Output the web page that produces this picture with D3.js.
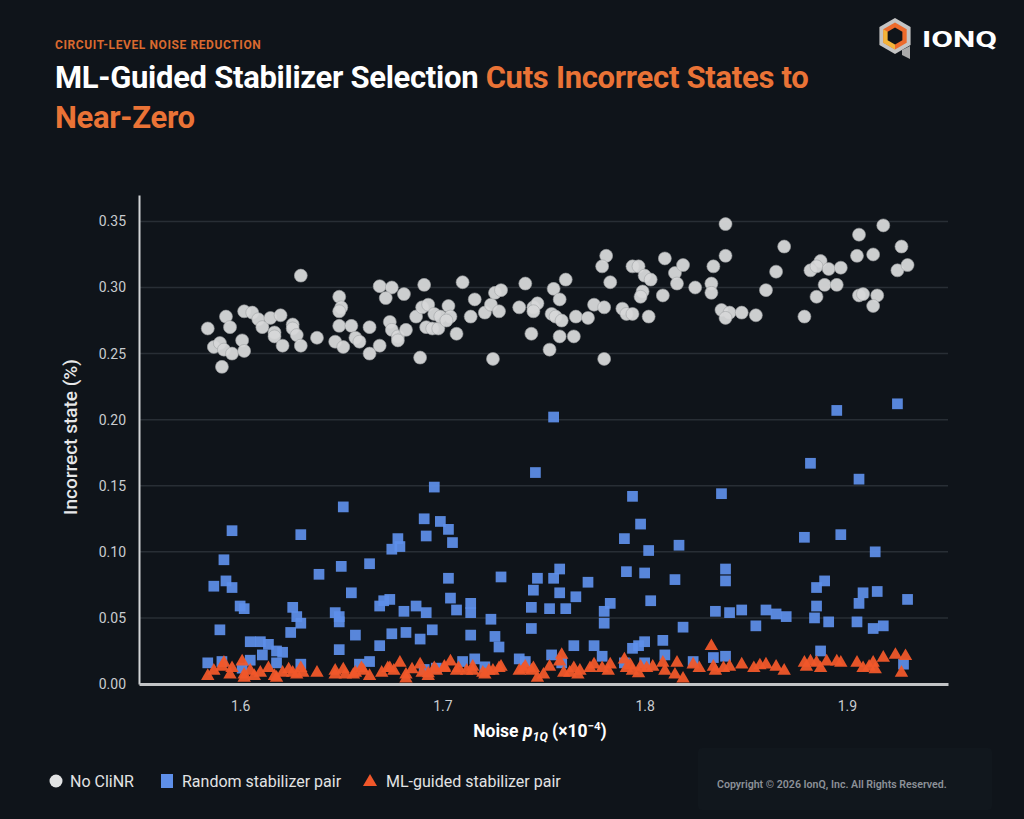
<!DOCTYPE html>
<html>
<head>
<meta charset="utf-8">
<script src="https://cdn.jsdelivr.net/npm/d3@7"></script>
<style>
  html, body { margin: 0; padding: 0; background: #0f141a; }
  svg { display: block; font-family: Roboto, "Noto Sans", sans-serif; }
</style>
</head>
<body>
<div id="chart"></div>
<script>
// ML-guided stabilizer selection scatter (IonQ style)

// ---- data: [noise p1Q (x1e-4), incorrect state %] ----
var noClinr = [
  [1.584,0.269],[1.593,0.278],[1.595,0.270],[1.587,0.255],[1.590,0.258],[1.592,0.253],[1.596,0.250],[1.591,0.240],[1.601,0.260],[1.602,0.252],
  [1.602,0.282],[1.606,0.281],[1.609,0.276],[1.611,0.270],[1.615,0.277],[1.620,0.279],[1.617,0.266],[1.617,0.263],[1.621,0.256],[1.626,0.272],
  [1.626,0.269],[1.628,0.264],[1.630,0.256],[1.630,0.309],[1.638,0.262],[1.649,0.293],[1.650,0.285],[1.649,0.282],[1.649,0.271],[1.655,0.271],
  [1.647,0.259],[1.651,0.255],[1.657,0.262],[1.659,0.259],[1.664,0.250],[1.664,0.270],[1.669,0.256],[1.669,0.301],[1.675,0.300],[1.672,0.292],
  [1.681,0.295],[1.674,0.274],[1.675,0.268],[1.678,0.263],[1.678,0.260],[1.682,0.268],[1.687,0.278],[1.691,0.302],[1.689,0.247],[1.690,0.285],
  [1.693,0.287],[1.692,0.270],[1.695,0.269],[1.698,0.269],[1.696,0.280],[1.699,0.278],[1.703,0.286],[1.704,0.278],[1.702,0.275],[1.707,0.265],
  [1.710,0.304],[1.714,0.278],[1.716,0.291],[1.721,0.281],[1.724,0.287],[1.726,0.296],[1.729,0.298],[1.728,0.282],[1.725,0.246],[1.741,0.303],
  [1.738,0.285],[1.745,0.285],[1.747,0.288],[1.745,0.282],[1.744,0.265],[1.753,0.253],[1.755,0.299],[1.761,0.306],[1.758,0.291],[1.754,0.280],
  [1.756,0.278],[1.759,0.275],[1.758,0.263],[1.765,0.263],[1.766,0.278],[1.772,0.277],[1.775,0.287],[1.780,0.285],[1.781,0.324],[1.779,0.316],
  [1.783,0.304],[1.780,0.246],[1.789,0.284],[1.791,0.280],[1.794,0.280],[1.794,0.316],[1.797,0.316],[1.800,0.309],[1.803,0.306],[1.799,0.297],
  [1.798,0.293],[1.802,0.278],[1.809,0.294],[1.810,0.322],[1.815,0.311],[1.816,0.303],[1.819,0.317],[1.825,0.300],[1.834,0.316],[1.833,0.303],
  [1.833,0.296],[1.838,0.283],[1.842,0.281],[1.840,0.277],[1.840,0.348],[1.840,0.324],[1.848,0.281],[1.855,0.279],[1.860,0.298],[1.865,0.312],
  [1.869,0.331],[1.879,0.278],[1.882,0.313],[1.887,0.320],[1.885,0.316],[1.891,0.314],[1.897,0.315],[1.889,0.302],[1.895,0.302],[1.885,0.293],
  [1.906,0.340],[1.905,0.324],[1.913,0.325],[1.918,0.347],[1.906,0.294],[1.908,0.295],[1.915,0.294],[1.913,0.286],[1.927,0.331],[1.925,0.313],
  [1.930,0.317]
];

var randomPair = [
  [1.755,0.202],[1.895,0.207],[1.925,0.212],[1.882,0.167],[1.906,0.155],[1.746,0.160],[1.696,0.149],[1.651,0.134],[1.794,0.142],[1.838,0.144],
  [1.691,0.125],[1.699,0.123],[1.798,0.121],[1.596,0.116],[1.703,0.117],
  [1.630,0.113],[1.692,0.112],[1.705,0.107],[1.678,0.110],[1.679,0.104],[1.675,0.102],[1.592,0.094],[1.650,0.089],[1.664,0.091],[1.639,0.083],
  [1.587,0.074],[1.593,0.078],[1.596,0.073],[1.655,0.069],[1.703,0.080],[1.729,0.081],[1.600,0.059],[1.602,0.057],[1.626,0.058],[1.628,0.051],
  [1.630,0.046],[1.625,0.039],[1.590,0.041],[1.647,0.054],[1.649,0.051],[1.649,0.047],[1.649,0.026],[1.657,0.037],[1.669,0.059],[1.671,0.063],
  [1.674,0.064],[1.681,0.055],[1.687,0.059],[1.692,0.054],[1.704,0.065],[1.707,0.056],[1.714,0.061],[1.714,0.054],[1.675,0.038],[1.682,0.039],
  [1.689,0.034],[1.695,0.041],[1.714,0.037],[1.724,0.049],[1.726,0.036],[1.728,0.028],[1.605,0.032],[1.610,0.032],[1.614,0.030],[1.611,0.022],
  [1.618,0.025],[1.621,0.024],[1.669,0.029],[1.744,0.042],[1.744,0.058],[1.745,0.071],[1.747,0.080],[1.755,0.080],[1.758,0.087],[1.758,0.069],
  [1.753,0.057],[1.761,0.057],[1.766,0.066],[1.765,0.029],[1.754,0.022],[1.759,0.016],
  [1.584,0.016],[1.591,0.017],[1.605,0.018],[1.618,0.016],[1.630,0.015],[1.659,0.015],[1.664,0.017],[1.710,0.017],[1.716,0.019],[1.721,0.013],
  [1.738,0.019],[1.741,0.017],[1.691,0.011],[1.697,0.012],[1.601,0.012],
  [1.790,0.110],[1.802,0.101],[1.817,0.105],[1.791,0.085],[1.800,0.084],[1.815,0.079],[1.772,0.077],[1.783,0.061],[1.780,0.055],[1.780,0.046],
  [1.803,0.063],[1.840,0.087],[1.840,0.078],[1.835,0.055],[1.842,0.054],[1.848,0.056],[1.855,0.044],[1.860,0.056],[1.865,0.053],[1.870,0.051],
  [1.879,0.111],[1.897,0.113],[1.914,0.100],[1.885,0.073],[1.889,0.078],[1.885,0.059],[1.884,0.050],[1.891,0.047],[1.906,0.061],[1.908,0.069],
  [1.915,0.070],[1.930,0.064],[1.905,0.047],[1.913,0.042],[1.918,0.044],[1.819,0.043],[1.775,0.029],[1.779,0.021],[1.794,0.027],[1.797,0.029],
  [1.800,0.032],[1.809,0.033],[1.810,0.022],[1.887,0.025],[1.834,0.020],[1.840,0.021],[1.824,0.017],[1.928,0.015],[1.790,0.016],[1.800,0.016]
];

var mlGuided = [
  [1.584,0.006],[1.587,0.010],[1.591,0.013],[1.592,0.016],[1.595,0.007],[1.596,0.012],[1.601,0.017],[1.602,0.007],[1.605,0.010],[1.610,0.0085],
  [1.614,0.012],[1.617,0.006],[1.621,0.0085],[1.624,0.011],[1.628,0.007],[1.631,0.0085],[1.638,0.0085],[1.647,0.010],[1.651,0.011],[1.652,0.007],
  [1.656,0.007],[1.660,0.012],[1.664,0.006],[1.670,0.0085],[1.674,0.012],[1.676,0.010],[1.679,0.016],[1.682,0.007],[1.689,0.0147],[1.690,0.0085],
  [1.693,0.006],[1.697,0.010],[1.701,0.013],[1.704,0.017],[1.707,0.010],[1.712,0.010],[1.715,0.013],[1.720,0.0085],[1.723,0.010],[1.728,0.012],
  [1.740,0.011],[1.744,0.010],[1.747,0.0047],[1.753,0.013],[1.758,0.017],[1.760,0.0085],[1.759,0.022],[1.602,0.0047],[1.618,0.0047],[1.682,0.004],
  [1.607,0.006],[1.626,0.0085],[1.630,0.012],[1.647,0.007],[1.657,0.0085],[1.661,0.010],[1.673,0.012],[1.693,0.008],[1.696,0.012],[1.701,0.012],
  [1.715,0.010],[1.721,0.007],[1.725,0.010],[1.729,0.013],[1.738,0.010],[1.745,0.012],[1.763,0.0085],[1.741,0.013],[1.750,0.007],[1.685,0.011],
  [1.708,0.012],
  [1.765,0.012],[1.767,0.007],[1.773,0.012],[1.775,0.0147],[1.779,0.012],[1.782,0.010],[1.783,0.0147],[1.790,0.0185],[1.791,0.012],[1.794,0.010],
  [1.798,0.013],[1.801,0.012],[1.804,0.013],[1.809,0.016],[1.810,0.010],[1.816,0.016],[1.815,0.007],[1.819,0.004],[1.824,0.0147],[1.833,0.0286],
  [1.834,0.013],[1.839,0.012],[1.842,0.013],[1.848,0.0147],[1.854,0.012],[1.860,0.0147],[1.865,0.013],[1.869,0.010],[1.879,0.016],[1.882,0.017],
  [1.885,0.016],[1.887,0.012],[1.890,0.017],[1.895,0.017],[1.897,0.016],[1.905,0.016],[1.908,0.012],[1.913,0.016],[1.914,0.011],[1.918,0.0198],
  [1.924,0.022],[1.929,0.021],[1.927,0.0085],
  [1.768,0.010],[1.793,0.014],[1.797,0.008],[1.827,0.012],[1.835,0.010],[1.857,0.014],[1.880,0.013],[1.911,0.013]
];

var xTicks = [1.6, 1.7, 1.8, 1.9];
var yTicks = [0, 0.05, 0.10, 0.15, 0.20, 0.25, 0.30, 0.35];
var legendLabels = ["No CliNR", "Random stabilizer pair", "ML-guided stabilizer pair"];

// ---- canvas ----
var svgWidth = 1024;
var svgHeight = 819;
var margin = { top: 195, right: 76, bottom: 135, left: 139 };
var width = svgWidth - margin.left - margin.right;
var height = svgHeight - margin.top - margin.bottom;

var svg = d3.select("#chart")
    .append("svg")
    .attr("width", svgWidth)
    .attr("height", svgHeight);

svg.append("rect")
    .attr("width", svgWidth)
    .attr("height", svgHeight)
    .attr("fill", "#0f141a");

// header
svg.append("text")
    .attr("x", 55)
    .attr("y", 49)
    .attr("fill", "#d9692f")
    .attr("font-size", 12)
    .attr("font-weight", 700)
    .attr("letter-spacing", 0.6)
    .text("CIRCUIT-LEVEL NOISE REDUCTION");

var title1 = svg.append("text")
    .attr("x", 55)
    .attr("y", 88)
    .attr("font-size", 31)
    .attr("font-weight", 700)
    .attr("letter-spacing", -0.3);
title1.append("tspan").attr("fill", "#ffffff").text("ML-Guided Stabilizer Selection ");
title1.append("tspan").attr("fill", "#ea7336").text("Cuts Incorrect States to");

svg.append("text")
    .attr("x", 55)
    .attr("y", 128)
    .attr("font-size", 31)
    .attr("font-weight", 700)
    .attr("letter-spacing", -0.3)
    .attr("fill", "#ea7336")
    .text("Near-Zero");

// logo
function hexPoints(cx, cy, r) {
    return d3.range(6).map(function(i) {
        var a = Math.PI / 180 * (60 * i - 90);
        return [cx + r * Math.cos(a), cy + r * Math.sin(a)];
    });
}
var logo = svg.append("g");
logo.append("polygon")
    .attr("points", [[902, 50], [910, 46], [910, 59], [902, 55]].join(" "))
    .attr("fill", "#a9a9a9");
logo.append("polygon").attr("points", hexPoints(895, 36, 18).join(" ")).attr("fill", "#c4c4c4");
logo.append("polygon").attr("points", hexPoints(895, 36, 13.5).join(" ")).attr("fill", "#ec6a2c");
var hIn = hexPoints(895, 36, 13.5);
logo.append("polygon")
    .attr("points", [hIn[3], hIn[4], hIn[5], [895, 36]].join(" "))
    .attr("fill", "#f2b43a");
logo.append("polygon").attr("points", hexPoints(895, 36, 8.5).join(" ")).attr("fill", "#0f141a");
svg.append("text")
    .attr("x", 922)
    .attr("y", 47)
    .attr("font-size", 22)
    .attr("font-weight", 700)
    .attr("fill", "#ffffff")
    .attr("textLength", 75)
    .attr("lengthAdjust", "spacingAndGlyphs")
    .text("IONQ");

// ---- chart ----
var chartGroup = svg.append("g")
    .attr("transform", `translate(${margin.left}, ${margin.top})`);

var x = d3.scaleLinear().domain([1.55, 1.95]).range([0, width]);
var y = d3.scaleLinear().domain([0, 0.37]).range([height, 0]);

// gridlines
chartGroup.append("g")
    .selectAll("line")
    .data(yTicks.filter(d => d > 0))
    .enter()
    .append("line")
    .attr("x1", 0)
    .attr("x2", width)
    .attr("y1", d => y(d))
    .attr("y2", d => y(d))
    .attr("stroke", "#282e35")
    .attr("stroke-width", 1.5);

var leftAxis = d3.axisLeft(y)
    .tickValues(yTicks)
    .tickSize(0)
    .tickPadding(13)
    .tickFormat(d3.format(".2f"));
var bottomAxis = d3.axisBottom(x)
    .tickValues(xTicks)
    .tickSize(0)
    .tickPadding(17)
    .tickFormat(d3.format(".1f"));

var yAxis = chartGroup.append("g").call(leftAxis);
yAxis.select(".domain").attr("stroke", "#d2d4d6").attr("stroke-width", 2);
yAxis.selectAll("text")
    .attr("fill", "#c9ccd0")
    .attr("font-size", 14)
    .attr("font-family", "Roboto, sans-serif");

var xAxis = chartGroup.append("g")
    .attr("transform", `translate(0, ${height})`)
    .call(bottomAxis);
xAxis.select(".domain").attr("stroke", "#c2c4c6").attr("stroke-width", 3);
xAxis.selectAll("text")
    .attr("fill", "#c9ccd0")
    .attr("font-size", 14)
    .attr("font-family", "Roboto, sans-serif");

// axis titles
svg.append("text")
    .attr("transform", "translate(77, 437) rotate(-90)")
    .attr("text-anchor", "middle")
    .attr("fill", "#e6e7e9")
    .attr("font-size", 19)
    .attr("font-weight", 500)
    .text("Incorrect state (%)");

var xTitle = svg.append("text")
    .attr("x", 540)
    .attr("y", 737)
    .attr("text-anchor", "middle")
    .attr("fill", "#ffffff")
    .attr("font-size", 17.5)
    .attr("font-weight", 700);
xTitle.append("tspan").text("Noise ");
xTitle.append("tspan").attr("font-style", "italic").text("p");
xTitle.append("tspan").attr("font-style", "italic").attr("font-size", 12.5).attr("dy", 4).text("1Q");
xTitle.append("tspan").attr("dy", -4).text(" (×10");
xTitle.append("tspan").attr("font-size", 11.5).attr("dy", -7).text("−4");
xTitle.append("tspan").attr("dy", 7).text(")");

// points
chartGroup.append("g")
    .selectAll("circle")
    .data(noClinr)
    .enter()
    .append("circle")
    .attr("cx", d => x(d[0]))
    .attr("cy", d => y(d[1]))
    .attr("r", 6.5)
    .attr("fill", "#d7d8d9")
    .attr("stroke", "#9fa2a5")
    .attr("stroke-width", 0.6)
    .attr("opacity", 0.95);

var square = d3.symbol().type(d3.symbolSquare).size(115);
chartGroup.append("g")
    .selectAll("path")
    .data(randomPair)
    .enter()
    .append("path")
    .attr("d", square)
    .attr("transform", d => `translate(${x(d[0])}, ${y(d[1])})`)
    .attr("fill", "#5e8fe9")
    .attr("opacity", 0.93);

var tri = d3.symbol().type(d3.symbolTriangle).size(78);
chartGroup.append("g")
    .selectAll("path")
    .data(mlGuided)
    .enter()
    .append("path")
    .attr("d", tri)
    .attr("transform", d => `translate(${x(d[0])}, ${y(d[1])})`)
    .attr("fill", "#f0572a")
    .attr("opacity", 0.95);

// legend
var legend = svg.append("g").attr("transform", "translate(0, 781)");
legend.append("circle").attr("cx", 56).attr("cy", 0).attr("r", 6.5).attr("fill", "#e2e3e4");
legend.append("rect").attr("x", 161).attr("y", -7).attr("width", 12).attr("height", 14).attr("fill", "#5e8fe9");
legend.append("path")
    .attr("d", d3.symbol().type(d3.symbolTriangle).size(85))
    .attr("transform", "translate(370, 1)")
    .attr("fill", "#f0572a");
legend.selectAll("text.lg")
    .data(legendLabels)
    .enter()
    .append("text")
    .attr("class", "lg")
    .attr("x", (d, i) => [70, 182, 386][i])
    .attr("y", 6)
    .attr("fill", "#e2e3e4")
    .attr("font-size", 16)
    .text(d => d);

// copyright box
svg.append("rect")
    .attr("x", 698)
    .attr("y", 748)
    .attr("width", 294)
    .attr("height", 62)
    .attr("rx", 4)
    .attr("fill", "#11171d");
svg.append("text")
    .attr("x", 717)
    .attr("y", 788)
    .attr("fill", "#8c9198")
    .attr("font-size", 10.6)
    .attr("font-weight", 600)
    .text("Copyright © 2026 IonQ, Inc. All Rights Reserved.");
</script>
</body>
</html>
